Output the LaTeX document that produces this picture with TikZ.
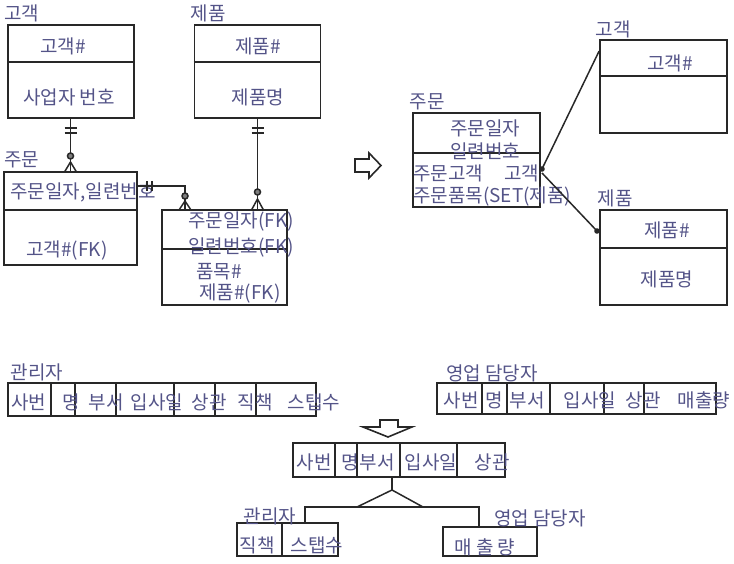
\documentclass[tikz,border=0pt]{standalone}
\usepackage{fontspec}
\setmainfont{Noto Sans CJK KR}
\usepackage{tikz}
\definecolor{inkc}{RGB}{84,84,136}
\definecolor{linec}{RGB}{40,40,40}

\begin{document}
\begin{tikzpicture}[x=1pt,y=-1pt,
  ent/.style={draw=linec, line width=1.8pt, inner sep=0pt},
  sep/.style={draw=linec, line width=1.5pt},
  rel/.style={draw=linec, line width=1.5pt},
  txt/.style={text=inkc, inner sep=0pt, font=\fontsize{19}{21}\selectfont}]
\useasboundingbox (0,0) rectangle (734,564);

% relational model
\node[ent, minimum width=126pt, minimum height=93pt] (cust) at (71,71.5) {};
\draw[sep] (cust.west |- 0,62) -- (cust.east |- 0,62);
\node[txt] (lcust) at (22,13) {고객};
\node[txt] (custk) at (63,46) {고객\#};
\node[txt] (custb) at (69,97) {사업자 번호};

\node[ent, minimum width=126pt, minimum height=93pt] (prod) at (257.5,71.5) {};
\draw[sep] (prod.west |- 0,62) -- (prod.east |- 0,62);
\node[txt] (lprod) at (208,13) {제품};
\node[txt] (prodk) at (258,46) {제품\#};
\node[txt] (prodn) at (258,97) {제품명};

\node[ent, minimum width=133pt, minimum height=93pt] (ord) at (70.5,218.5) {};
\draw[sep] (ord.west |- 0,210) -- (ord.east |- 0,210);
\node[txt] (lord) at (22,160) {주문};
\node[txt] (ordk) at (83,192) {주문일자,일련번호};
\node[txt] (ordf) at (67,251) {고객\#(FK)};

\node[ent, minimum width=125pt, minimum height=95pt] (item) at (224.5,257.5) {};
\draw[sep] (item.west |- 0,249) -- (item.east |- 0,249);
\node[txt] (itemk) at (241,222) {주문일자(FK)};
\node[txt] (itemn) at (241,248) {일련번호(FK)};
\node[txt] (itemp) at (219,272) {품목\#};
\node[txt] (itemf) at (240,294) {제품\#(FK)};

% 고객 -- 주문
\draw[rel] (ord.north |- cust.south) -- (ord.north);
\draw[rel] (64.5,128) -- (76.5,128);
\draw[rel] (64.5,133) -- (76.5,133);
\draw[rel, fill=linec!60] (70.5,156) circle (3pt);
\draw[rel] (64.5,172) -- (70.5,162) -- (76.5,172);

% 주문 -- 주문품목
\coordinate (bend) at (185,186);
\draw[rel] (ord.east |- bend) -- (bend) -- (bend |- item.north);
\draw[rel] (147,181) -- (147,191);
\draw[rel] (152,181) -- (152,191);
\draw[rel, fill=linec!60] (185,196) circle (3pt);
\draw[rel] (179,210) -- (185,201) -- (191,210);

% 제품 -- 주문품목
\draw[rel] (prod.south) -- (prod.south |- item.north);
\draw[rel] (251.5,128) -- (263.5,128);
\draw[rel] (251.5,133) -- (263.5,133);
\draw[rel, fill=linec!60] (257.5,192) circle (3pt);
\draw[rel] (251.5,210) -- (257.5,199) -- (263.5,210);

% arrow
\draw[linec, line width=1.6pt] (355,159) -- (369,159) -- (369,153) -- (381,165.5)
  -- (369,178) -- (369,172) -- (355,172) -- cycle;

% object model
\node[ent, minimum width=127pt, minimum height=94pt] (ord2) at (476.5,160) {};
\draw[sep] (ord2.west |- 0,153) -- (ord2.east |- 0,153);
\node[txt] (lord2) at (427,102) {주문};
\node[txt] (ord2a) at (485,128) {주문일자};
\node[txt] (ord2b) at (485,151) {일련번호};
\node[txt, anchor=west] (ord2c) at (413,173) {주문고객\hspace{1.1em}고객};
\node[txt, anchor=west] (ord2d) at (413,197) {주문품목(SET(제품)};

\node[ent, minimum width=127pt, minimum height=93pt] (cust2) at (663.5,86.5) {};
\draw[sep] (cust2.west |- 0,76) -- (cust2.east |- 0,76);
\node[txt] (lcust2) at (613,29) {고객};
\node[txt] (cust2k) at (670,63) {고객\#};

\node[ent, minimum width=127pt, minimum height=95pt] (prod2) at (663.5,257.5) {};
\draw[sep] (prod2.west |- 0,248) -- (prod2.east |- 0,248);
\node[txt] (lprod2) at (615,198) {제품};
\node[txt] (prod2k) at (667,230) {제품\#};
\node[txt] (prod2n) at (667,279) {제품명};

\coordinate (hub) at (542,169);
\coordinate (pin) at (597,231);
\draw[rel] (hub) -- ([yshift=-12pt]cust2.north west);
\draw[rel] ([yshift=-4pt]hub) -- (pin);
\fill[linec] (hub) circle (2.8pt);
\fill[linec] (pin) circle (2.8pt);

% generalization
\node[ent, minimum width=308pt, minimum height=33pt] (mgr) at (162,399.5) {};
\draw[sep] (mgr.north -| 51,0) -- (mgr.south -| 51,0);
\draw[sep] (mgr.north -| 75,0) -- (mgr.south -| 75,0);
\draw[sep] (mgr.north -| 116,0) -- (mgr.south -| 116,0);
\draw[sep] (mgr.north -| 174,0) -- (mgr.south -| 174,0);
\draw[sep] (mgr.north -| 215,0) -- (mgr.south -| 215,0);
\draw[sep] (mgr.north -| 256,0) -- (mgr.south -| 256,0);
\node[txt] (lmgr) at (37,372) {관리자};
\node[txt] (mgra) at (29,402) {사번};
\node[txt] (mgrb) at (71,402) {명};
\node[txt] (mgrc) at (106,402) {부서};
\node[txt] (mgrd) at (157,402) {입사일};
\node[txt] (mgre) at (209,402) {상관};
\node[txt] (mgrf) at (255,402) {직책};
\node[txt] (mgrg) at (314,402) {스탭수};

\node[ent, minimum width=279pt, minimum height=31pt] (sales) at (576.5,398.5) {};
\draw[sep] (sales.north -| 482,0) -- (sales.south -| 482,0);
\draw[sep] (sales.north -| 507,0) -- (sales.south -| 507,0);
\draw[sep] (sales.north -| 550,0) -- (sales.south -| 550,0);
\draw[sep] (sales.north -| 604,0) -- (sales.south -| 604,0);
\draw[sep] (sales.north -| 644,0) -- (sales.south -| 644,0);
\node[txt] (lsales) at (492,373) {영업 담당자};
\node[txt] (salesa) at (461,400) {사번};
\node[txt] (salesb) at (494,400) {명};
\node[txt] (salesc) at (527,400) {부서};
\node[txt] (salesd) at (590,400) {입사일};
\node[txt] (salese) at (643,400) {상관};
\node[txt] (salesf) at (704,400) {매출량};

\draw[linec, line width=1.6pt] (380,420) -- (398,420) -- (398,427) -- (412,427) -- (388,437)
  -- (363,427) -- (380,427) -- cycle;

\node[ent, minimum width=212pt, minimum height=34pt] (emp) at (399,460) {};
\draw[sep] (emp.north -| 335,0) -- (emp.south -| 335,0);
\draw[sep] (emp.north -| 357,0) -- (emp.south -| 357,0);
\draw[sep] (emp.north -| 400,0) -- (emp.south -| 400,0);
\draw[sep] (emp.north -| 457,0) -- (emp.south -| 457,0);
\node[txt] (empa) at (314,462) {사번};
\node[txt] (empb) at (350,462) {명};
\node[txt] (empc) at (377,462) {부서};
\node[txt] (empd) at (431,462) {입사일};
\node[txt] (empe) at (492,462) {상관};

\node[ent, minimum width=101pt, minimum height=33pt] (mgr2) at (287.5,539.5) {};
\draw[sep] (mgr2.north -| 282,0) -- (mgr2.south -| 282,0);
\node[txt] (lmgr2) at (270,516) {관리자};
\node[txt] (mgr2a) at (257,545) {직책};
\node[txt] (mgr2b) at (317,545) {스탭수};

\node[ent, minimum width=94pt, minimum height=29pt] (sales2) at (490,541.5) {};
\node[txt] (lsales2) at (540,518) {영업 담당자};
\node[txt] (sales2a) at (485,547) {매 출 량};

\coordinate (isa) at (392,490);
\coordinate (bl) at (305,507);
\coordinate (br) at (479,507);
\draw[rel] (emp.south -| isa) -- (isa);
\draw[rel] (357,507) -- (isa) -- (423,507);
\draw[rel] (bl |- mgr2.north) -- (bl) -- (br) -- (br |- sales2.north);
\end{tikzpicture}
\end{document}
